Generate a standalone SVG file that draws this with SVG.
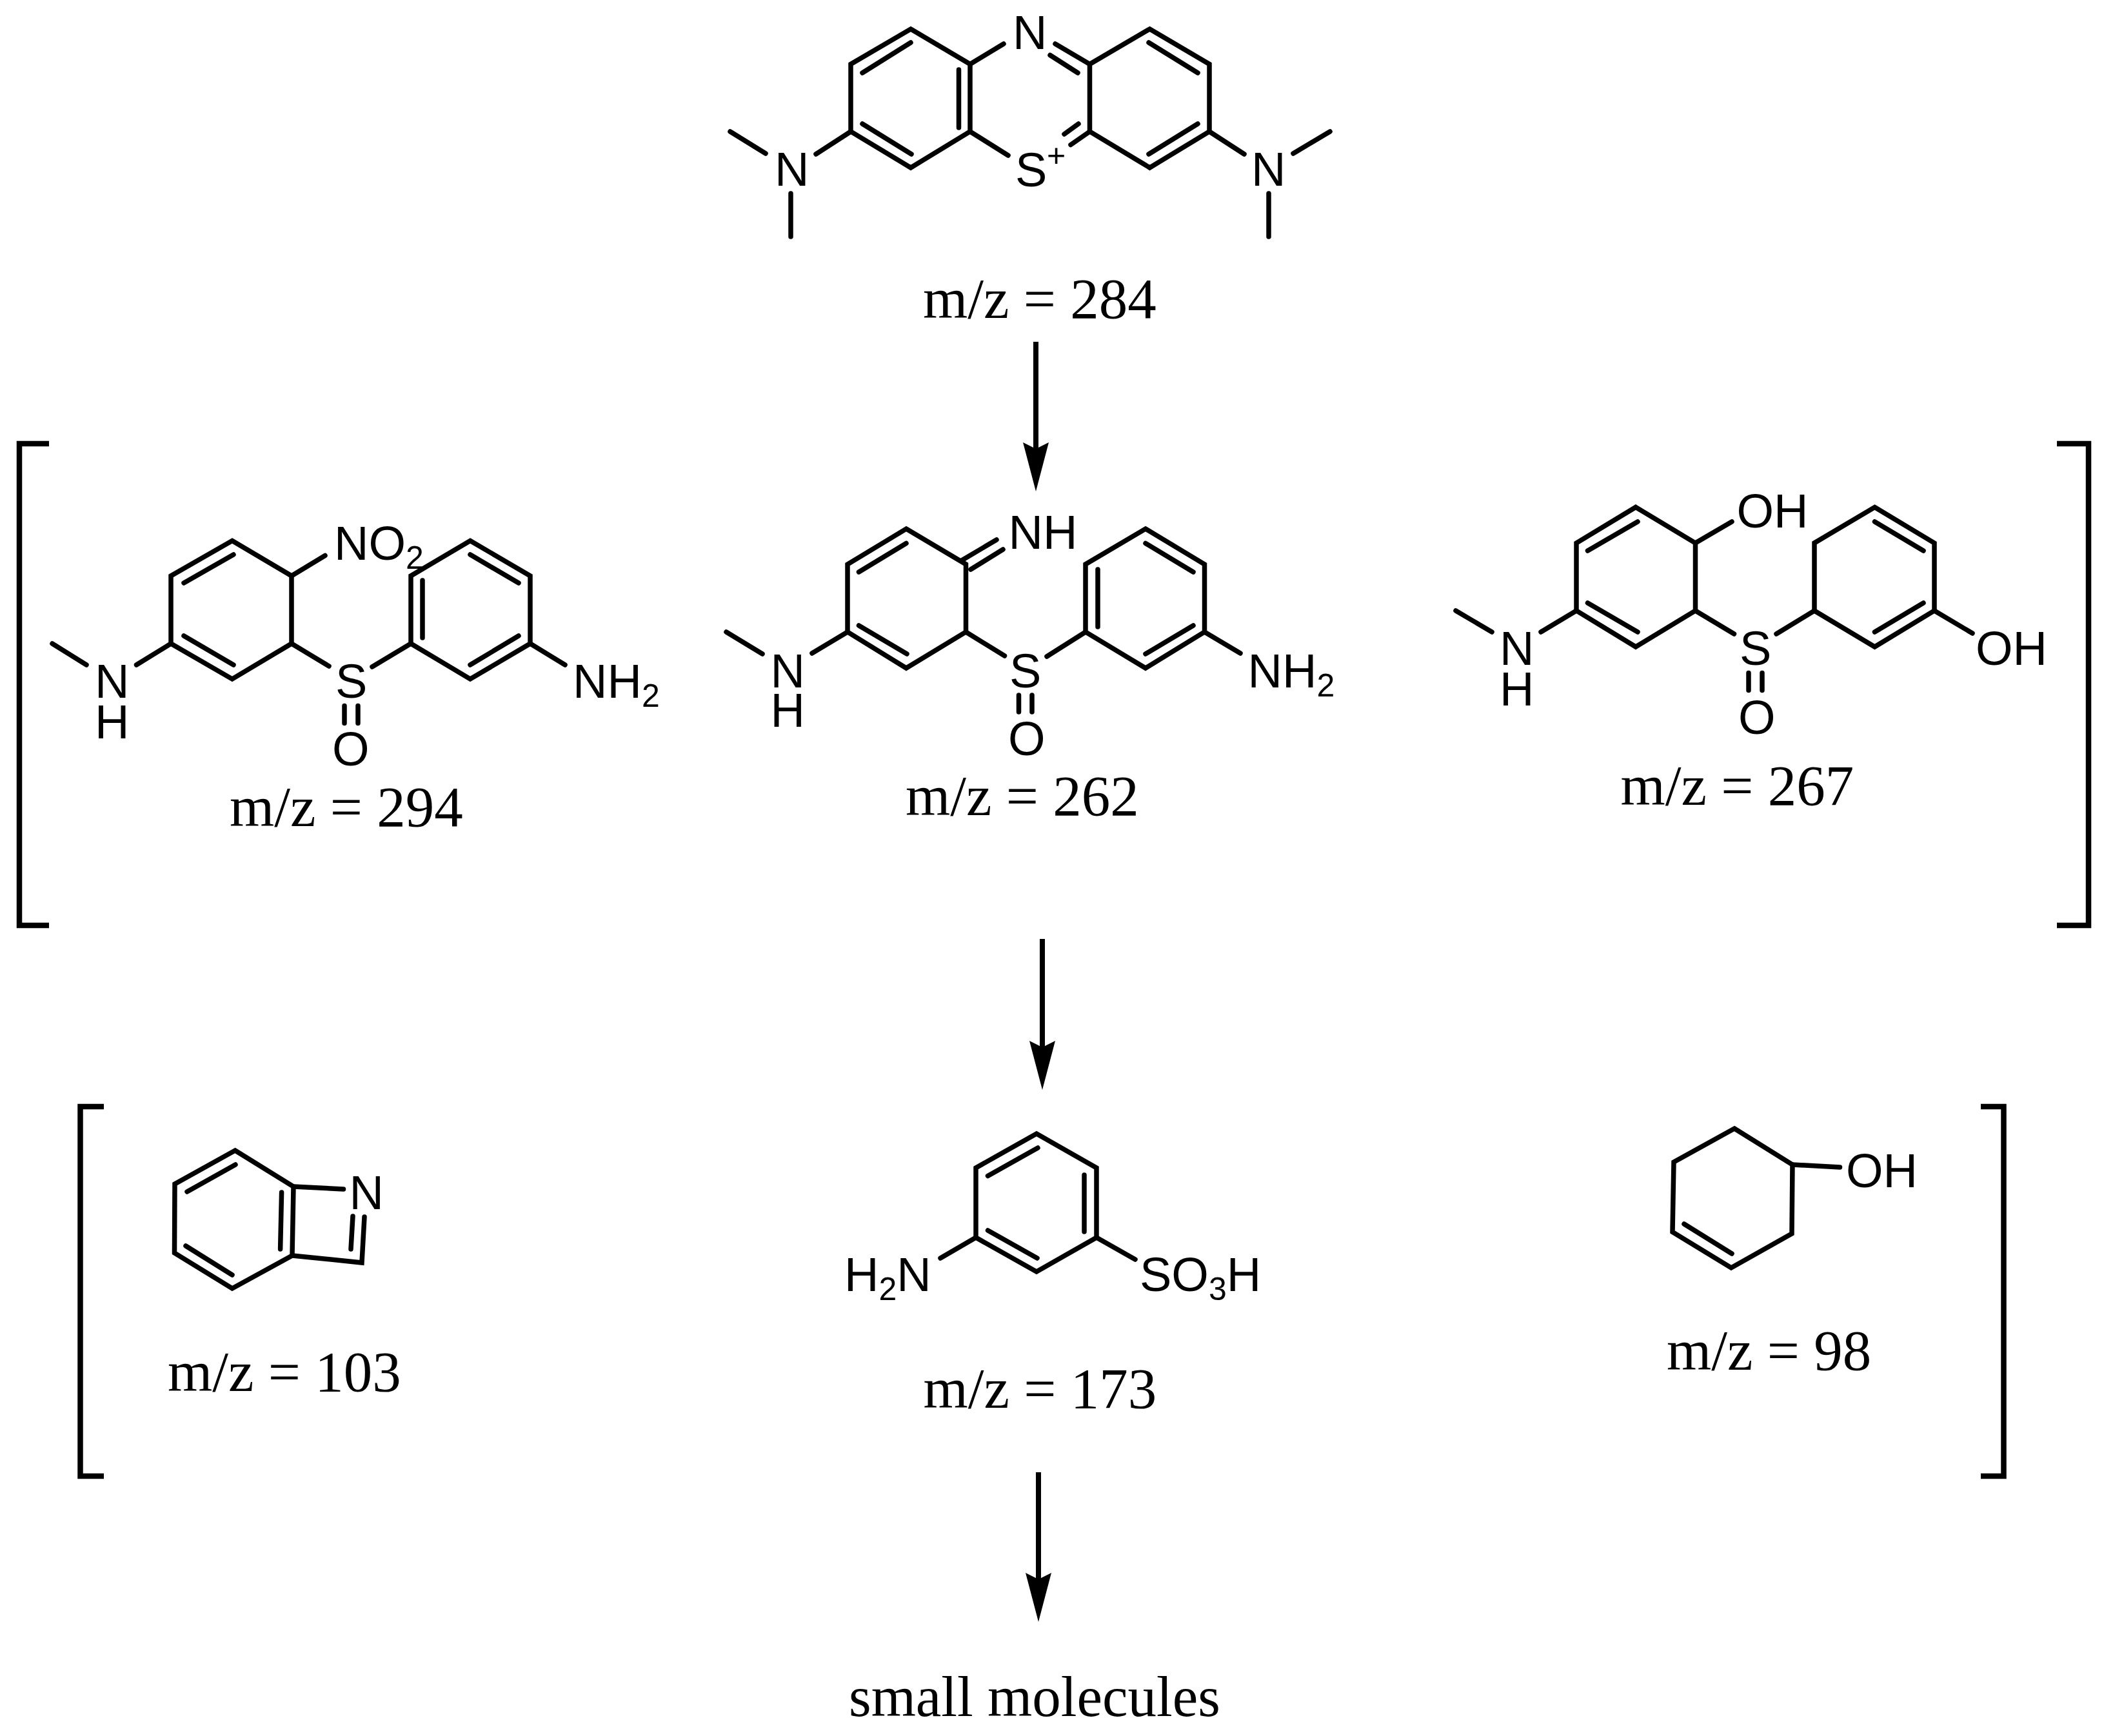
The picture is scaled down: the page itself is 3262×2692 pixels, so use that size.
<svg xmlns="http://www.w3.org/2000/svg" width="3262" height="2692" viewBox="0 0 3262 2692">
<style>
.b{fill:none;stroke:#000;stroke-width:7.5;stroke-linecap:round;stroke-linejoin:miter}
.k{fill:none;stroke:#000;stroke-width:8.5;stroke-linecap:butt;stroke-linejoin:miter}
.a{fill:none;stroke:#000;stroke-width:8;stroke-linecap:butt;marker-end:url(#head)}
.t{font-family:"Liberation Sans",Arial,sans-serif;font-size:74px;fill:#000}
.s{font-size:50px}
.m{font-family:"Liberation Serif","Times New Roman",serif;font-size:89px;fill:#000}
</style>
<defs>
<marker id="head" markerUnits="userSpaceOnUse" viewBox="0 0 76 40" markerWidth="76" markerHeight="40" refX="10" refY="20" orient="auto">
<path d="M0 0L76 20L0 40L10 20Z" fill="#000"/>
</marker>
</defs>
<rect width="3262" height="2692" fill="#fff"/>
<g id="connectors">
<path class="a" d="M1606 530V696"/>
<path class="a" d="M1616 1456V1624"/>
<path class="a" d="M1610 2283V2449"/>
</g>
<g id="mol-284">
<path class="b" d="M1412 45L1504 99.5V204L1412 260L1319 204V99.5Z"/>
<path class="b" d="M1782.5 45L1875 99.5V204L1782.5 260L1689.5 204V99.5Z"/>
<path class="b" d="M1412 66L1337 113M1486.5 108V198M1337 192L1413 239M1781 66L1857 113M1857 192L1781 239M1504 99.5L1556 68M1689.5 99.5L1636 68M1671 113L1628 85.5M1504 204L1563 241M1689.5 204L1660 224.5M1672 192L1650 208M1319 204L1265 239M1187 238L1132 204M1226 300V367M1875 204L1929 239M2005 238L2062 204M1967 300V367"/>
<text class="t" x="1570" y="76">N</text>
<text class="t" x="1574" y="289">S</text>
<text class="t s" x="1623" y="258">+</text>
<text class="t" x="1201" y="288">N</text>
<text class="t" x="1940" y="288">N</text>
<text class="m" x="1431" y="493">m/z = 284</text>
</g>
<g id="mol-294">
<path class="k" d="M76 688H30V1435H76"/>
<path class="b" d="M360 838.5L452 893V998L360 1053L265 998V893Z"/>
<path class="b" d="M729 838.5L822 893V998L729 1053L637 998V893Z"/>
<path class="b" d="M362 860L285 904M285 986L362 1031M452 893L504 861.5M729 860L804 904M655 900V989M804 986L729 1031M452 998L510 1033M637 998L577 1034M534 1094.5V1121.5M555 1094.5V1121.5M81 998L134 1031M211.5 1031L265 998M822 998L876 1031"/>
<text class="t" x="518" y="868">NO<tspan class="s" dy="14">2</tspan></text>
<text class="t" x="520" y="1082">S</text>
<text class="t" x="515" y="1187">O</text>
<text class="t" x="147" y="1082">N</text>
<text class="t" x="147" y="1144.5">H</text>
<text class="t" x="888" y="1082">NH<tspan class="s" dy="14">2</tspan></text>
<text class="m" x="356" y="1281">m/z = 294</text>
</g>
<g id="mol-262">
<path class="b" d="M1405 820L1497.5 875V980L1405 1036L1314 980V875Z"/>
<path class="b" d="M1776 820L1867.5 875V980L1776 1036L1683 980V875Z"/>
<path class="b" d="M1405 842.5L1331.5 887M1331.5 970L1406 1014M1491 869L1545 837M1505 883L1555 852M1776 842.5L1850 887M1702 883V972M1850 970L1776 1014M1497.5 980L1557.5 1017M1683 980L1623 1018M1579.5 1078V1104M1600 1078V1104M1126 980L1182 1014M1259 1013L1314 980M1867.5 980L1923 1013"/>
<text class="t" x="1563.5" y="851">NH</text>
<text class="t" x="1565" y="1065.5">S</text>
<text class="t" x="1563" y="1171">O</text>
<text class="t" x="1194.5" y="1065.5">N</text>
<text class="t" x="1194.5" y="1127">H</text>
<text class="t" x="1934.5" y="1065.5">NH<tspan class="s" dy="14">2</tspan></text>
<text class="m" x="1404" y="1264">m/z = 262</text>
</g>
<g id="mol-267">
<path class="k" d="M3189 688H3238V1435H3189"/>
<path class="b" d="M2536 786.5L2628.5 842V947L2536 1003L2444 947V842Z"/>
<path class="b" d="M2906.5 786.5L2999 842V947L2906.5 1003L2813 947V842Z"/>
<path class="b" d="M2539 809L2461.5 854M2461.5 935L2539 980M2628.5 842L2685 809M2906.5 809L2982 854M2982 935L2906.5 980M2628.5 947L2688.5 983M2813 947L2754 983M2711 1043.5V1070.5M2732 1043.5V1070.5M2257 947L2313 980M2389 980L2444 947M2999 947L3058 982"/>
<text class="t" x="2692.5" y="818">OH</text>
<text class="t" x="2697" y="1031">S</text>
<text class="t" x="2695" y="1138">O</text>
<text class="t" x="2325" y="1031">N</text>
<text class="t" x="2325" y="1093.5">H</text>
<text class="t" x="3063" y="1031">OH</text>
<text class="m" x="2512.6" y="1247.5">m/z = 267</text>
</g>
<g id="mol-103">
<path class="k" d="M161 1716H124.5V2289H161"/>
<path class="b" d="M364.5 1784L455 1840L453 1947L360 1998L270.5 1943L271 1836Z"/>
<path class="b" d="M365 1806L290 1848M436.6 1849L434.6 1937M288 1932L360 1977M455 1840L532.5 1844M453 1947L561 1958L565 1887M544 1937L547 1886"/>
<text class="t" x="541.5" y="1875">N</text>
<text class="m" x="260" y="2157">m/z = 103</text>
</g>
<g id="mol-173">
<path class="b" d="M1607 1758L1700 1811V1919L1607 1972L1513 1919V1811Z"/>
<path class="b" d="M1609 1780L1531.5 1823.5M1681 1822V1910M1531.5 1908L1608 1951M1513 1919L1458 1951M1700 1919L1760 1953"/>
<text class="t" x="1309" y="2002">H<tspan class="s" dy="14">2</tspan><tspan dy="-14">N</tspan></text>
<text class="t" x="1767" y="2002">SO<tspan class="s" dy="14">3</tspan><tspan dy="-14">H</tspan></text>
<text class="m" x="1431.5" y="2183">m/z = 173</text>
</g>
<g id="mol-98">
<path class="k" d="M3071 1716H3106.5V2289H3071"/>
<path class="b" d="M2689 1750L2779 1806L2778 1913L2684 1966L2593 1910.5L2595 1802Z"/>
<path class="b" d="M2611 1898L2685 1944M2779 1806L2852.5 1810"/>
<text class="t" x="2862" y="1841">OH</text>
<text class="m" x="2584" y="2124">m/z = 98</text>
</g>
<g id="small-molecules">
<text class="m" x="1316" y="2661">small molecules</text>
</g>
</svg>
